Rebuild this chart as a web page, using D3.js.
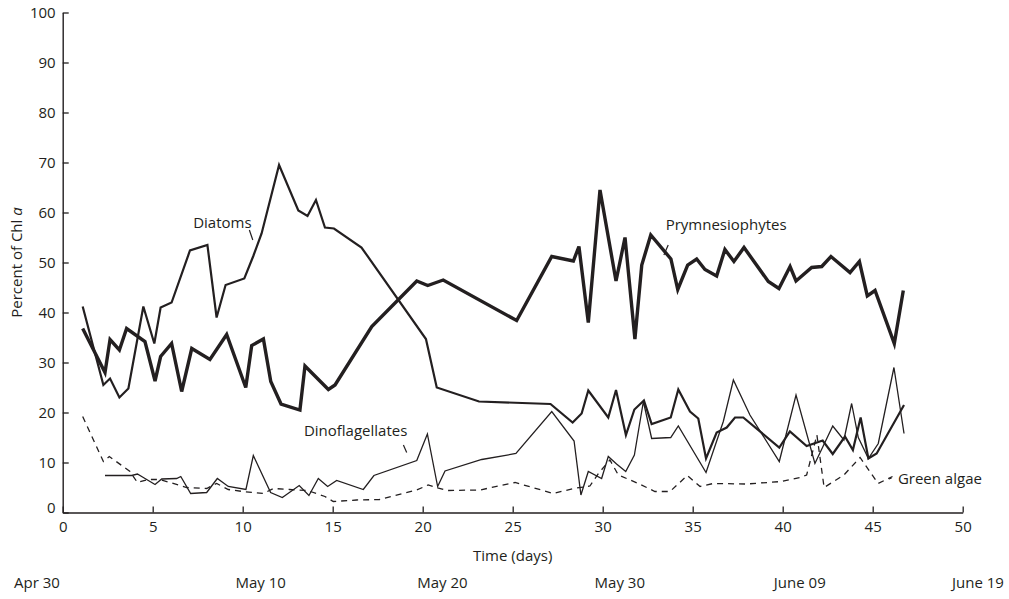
<!DOCTYPE html>
<html>
<head>
<meta charset="utf-8">
<script src="https://cdn.jsdelivr.net/npm/d3@7/dist/d3.min.js"></script>
<style>
  html, body { margin: 0; padding: 0; background: #fff; }
  svg { display: block; }
  text { font-family: "Open Sans", "Noto Sans", sans-serif; fill: #231f20; }
</style>
</head>
<body>
<svg id="chart" width="1009" height="599"></svg>
<script>
// Share of total chlorophyll a by pigment group over the bloom (days since Apr 30)
const prymDays = [1.11, 2.35, 2.63, 3.15, 3.55, 4.57, 5.13, 5.44, 6.05, 6.61, 7.17, 8.18, 9.11, 10.17, 10.5, 11.15, 11.56, 12.13, 13.18, 13.46, 14.76, 15.13, 17.17, 19.67, 20.28, 21.14, 25.22, 27.17, 28.37, 28.68, 29.2, 29.85, 30.74, 31.24, 31.79, 32.17, 32.67, 33.79, 34.17, 34.72, 35.22, 35.68, 36.33, 36.79, 37.29, 37.85, 39.2, 39.79, 40.41, 40.74, 41.61, 42.17, 42.68, 43.74, 44.26, 44.7, 45.13, 46.2, 46.7];
const prymValues = [36.8, 28.0, 34.6, 32.5, 36.8, 34.2, 26.3, 31.2, 33.8, 24.2, 32.8, 30.6, 35.6, 25.0, 33.4, 34.7, 26.2, 21.7, 20.5, 29.3, 24.6, 25.5, 37.2, 46.3, 45.4, 46.5, 38.4, 51.2, 50.3, 53.2, 38.0, 64.5, 46.3, 55.0, 34.7, 49.5, 55.5, 50.7, 44.6, 49.5, 50.7, 48.6, 47.3, 52.6, 50.2, 53.0, 46.2, 44.8, 49.2, 46.3, 49.0, 49.2, 51.2, 48.0, 50.2, 43.3, 44.4, 33.8, 44.4];

const diatomDays = [1.11, 2.26, 2.63, 3.15, 3.65, 4.48, 5.09, 5.44, 6.05, 7.07, 8.04, 8.55, 9.05, 10.09, 10.59, 11.05, 12.02, 13.09, 13.6, 14.07, 14.57, 15.07, 16.6, 20.18, 20.78, 23.13, 27.1, 28.33, 28.83, 29.2, 30.31, 30.74, 31.29, 31.76, 32.29, 32.72, 33.78, 34.2, 34.85, 35.31, 35.74, 36.33, 36.89, 37.35, 37.81, 39.81, 40.4, 41.33, 42.22, 42.78, 43.46, 43.9, 44.33, 44.76, 45.22, 46.74];
const diatomValues = [41.2, 25.5, 26.8, 23.0, 24.8, 41.2, 33.8, 41.0, 42.0, 52.4, 53.5, 39.0, 45.5, 46.8, 51.3, 55.8, 69.5, 60.4, 59.3, 62.5, 57.0, 56.8, 53.0, 34.7, 25.0, 22.2, 21.7, 18.0, 19.8, 24.4, 19.0, 24.5, 15.5, 20.6, 22.4, 17.7, 19.0, 24.6, 20.2, 18.8, 10.8, 16.0, 17.0, 19.0, 19.0, 13.0, 16.2, 13.3, 14.4, 11.7, 15.2, 12.5, 19.0, 10.8, 11.8, 21.5];

const dinoDays = [2.35, 3.83, 4.15, 4.48, 5.13, 5.5, 6.33, 6.56, 7.11, 8.0, 8.59, 9.2, 10.18, 10.59, 11.55, 12.2, 13.14, 13.68, 14.2, 14.72, 15.22, 16.7, 17.29, 19.67, 20.26, 20.83, 21.24, 23.28, 25.18, 27.17, 28.41, 28.79, 29.2, 29.94, 30.31, 30.77, 31.28, 31.76, 32.26, 32.72, 33.78, 34.2, 35.74, 36.7, 37.26, 38.18, 39.81, 40.74, 41.79, 42.78, 43.4, 43.83, 44.2, 44.76, 45.31, 46.18, 46.74];
const dinoValues = [7.4, 7.4, 7.7, 7.0, 5.6, 6.7, 6.8, 7.2, 3.8, 4.0, 6.8, 5.2, 4.6, 11.4, 4.0, 3.0, 5.4, 3.4, 6.8, 5.2, 6.4, 4.6, 7.4, 10.4, 15.7, 5.2, 8.3, 10.6, 11.8, 20.2, 14.3, 3.5, 8.2, 6.8, 11.2, 9.7, 8.2, 11.5, 22.2, 14.8, 15.0, 17.3, 8.0, 18.2, 26.5, 19.5, 10.2, 23.5, 9.8, 17.3, 14.5, 21.8, 15.0, 10.8, 13.8, 29.0, 15.8];

const greenDays = [1.11, 2.26, 2.59, 3.74, 4.15, 4.76, 5.4, 6.89, 8.0, 8.55, 9.2, 10.0, 11.15, 11.7, 12.6, 13.6, 14.57, 15.03, 16.33, 17.6, 19.67, 20.3, 21.33, 23.18, 25.13, 27.26, 28.37, 29.29, 29.76, 30.4, 30.87, 31.98, 32.9, 33.74, 34.7, 35.41, 36.14, 38.0, 39.94, 40.96, 41.33, 41.9, 42.3, 43.4, 44.3, 45.3, 46.1];
const greenValues = [19.2, 10.2, 11.2, 8.2, 6.0, 6.6, 6.6, 5.0, 4.8, 5.8, 4.6, 4.2, 3.8, 4.8, 4.6, 4.4, 3.2, 2.2, 2.5, 2.6, 4.5, 5.5, 4.4, 4.5, 6.0, 3.8, 4.8, 5.3, 7.8, 10.5, 7.5, 5.8, 4.2, 4.2, 7.4, 5.2, 5.8, 5.7, 6.2, 7.0, 7.5, 15.5, 5.0, 7.5, 11.0, 5.8, 7.2];

// Axis ticks
const xTicks = [0, 5, 10, 15, 20, 25, 30, 35, 40, 45, 50];
const yTicks = [0, 10, 20, 30, 40, 50, 60, 70, 80, 90, 100];

// Calendar row beneath the day axis, placed in day units
const dateLabels = ["Apr 30", "May 10", "May 20", "May 30", "June 09", "June 19"];
const dateDays = [-1.43, 11.0, 21.1, 30.95, 40.95, 50.85];

// Series labels with their leader ticks (day / percent coordinates)
const seriesLabels = ["Diatoms", "Prymnesiophytes", "Dinoflagellates", "Green algae"];
const labelDay = [7.25, 33.5, 13.4, 46.4];
const labelPct = [57.0, 56.5, 15.4, 5.8];
const leaderFrom = [[10.37, 56.5], [33.64, 53.5], [18.93, 13.5], [45.9, 6.7]];
const leaderTo = [[10.56, 54.5], [33.4, 51.5], [19.11, 12.0], [46.05, 6.9]];

const svg = d3.select("#chart");
const ink = "#231f20";

const x = d3.scaleLinear().domain([0, 50]).range([62.7, 962.7]);
const y = d3.scaleLinear().domain([0, 100]).range([512.5, 12.5]);

// Axes: ticks point into the plot
const xAxis = d3.axisBottom(x).tickValues(xTicks).tickSizeInner(-6).tickSizeOuter(0).tickPadding(9);
const yAxis = d3.axisLeft(y).tickValues(yTicks).tickSizeInner(-6).tickSizeOuter(0).tickPadding(7);

const gx = svg.append("g").attr("transform", `translate(0,${y(0)})`).call(xAxis);
const gy = svg.append("g").attr("transform", `translate(${x(0)},0)`).call(yAxis);

[gx, gy].forEach(g => {
  g.select(".domain").attr("stroke", ink).attr("stroke-width", 1.4);
  g.selectAll(".tick line").attr("stroke", ink).attr("stroke-width", 1.3);
  g.selectAll(".tick text").attr("fill", ink).style("font-size", "15px")
    .style("font-family", '"Open Sans", "Noto Sans", sans-serif');
});
// lift the y origin label clear of the x origin label
gy.selectAll(".tick text").filter(d => d === 0).attr("dy", "-0.02em");

// Axis titles
svg.append("text")
  .attr("x", x(25)).attr("y", 561)
  .attr("text-anchor", "middle")
  .style("font-size", "15px")
  .text("Time (days)");

const yt = svg.append("text")
  .attr("transform", `translate(22,${y(50)}) rotate(-90)`)
  .attr("text-anchor", "middle")
  .style("font-size", "15px");
yt.append("tspan").text("Percent of Chl ");
yt.append("tspan").style("font-style", "italic").text("a");

// Calendar dates
svg.append("g").selectAll("text")
  .data(dateLabels)
  .join("text")
  .attr("x", (d, i) => x(dateDays[i]))
  .attr("y", 588)
  .attr("text-anchor", "middle")
  .style("font-size", "15px")
  .text(d => d);

// Series lines
const line = d3.line().x(d => x(d[0])).y(d => y(d[1]));
const zip = (a, b) => a.map((v, i) => [v, b[i]]);

const series = [
  { pts: zip(greenDays, greenValues), width: 1.3, dash: "6,5" },
  { pts: zip(dinoDays, dinoValues), width: 1.3, dash: null },
  { pts: zip(diatomDays, diatomValues), width: 2.2, dash: null },
  { pts: zip(prymDays, prymValues), width: 3.4, dash: null }
];

svg.append("g").selectAll("path")
  .data(series)
  .join("path")
  .attr("d", s => line(s.pts))
  .attr("fill", "none")
  .attr("stroke", ink)
  .attr("stroke-width", s => s.width)
  .attr("stroke-linejoin", "miter")
  .attr("stroke-miterlimit", 4)
  .attr("stroke-dasharray", s => s.dash);

// Series labels and leaders
svg.append("g").selectAll("text")
  .data(seriesLabels)
  .join("text")
  .attr("x", (d, i) => x(labelDay[i]))
  .attr("y", (d, i) => y(labelPct[i]))
  .style("font-size", "15px")
  .text(d => d);

svg.append("g").selectAll("line")
  .data(seriesLabels)
  .join("line")
  .attr("x1", (d, i) => x(leaderFrom[i][0]))
  .attr("y1", (d, i) => y(leaderFrom[i][1]))
  .attr("x2", (d, i) => x(leaderTo[i][0]))
  .attr("y2", (d, i) => y(leaderTo[i][1]))
  .attr("stroke", ink)
  .attr("stroke-width", 1.2);
</script>
</body>
</html>
